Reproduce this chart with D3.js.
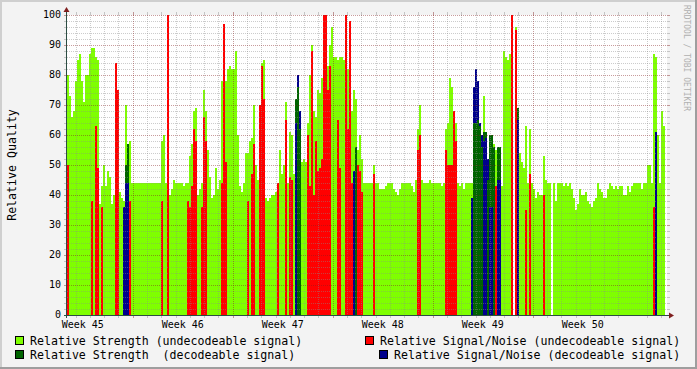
<!DOCTYPE html>
<html>
<head>
<meta charset="utf-8">
<script src="https://cdn.jsdelivr.net/npm/d3@7"></script>
<style>
  html, body { margin: 0; padding: 0; background: #f3f3f3; }
  svg { display: block; }
  text { font-family: "DejaVu Sans Mono", monospace; white-space: pre; }
</style>
</head>
<body>
<div id="chart"></div>
<script>
// time base: one sample every 3.36 h, starting Wed 2010-11-10 09:36 UTC
const seriesStart = "2010-11-10T09:36:00Z";
const sampleHours = 3.36;
const spanDays = 42;

const weekLabels = ["Week 45", "Week 46", "Week 47", "Week 48", "Week 49", "Week 50"];
const weekStarts = ["2010-11-08", "2010-11-15", "2010-11-22", "2010-11-29", "2010-12-06", "2010-12-13"];
const yTicks = [0, 10, 20, 30, 40, 50, 60, 70, 80, 90, 100];

// relative strength, undecodeable signal (one value per sample)
const strengthUndec = [
  80,73,66,68,78,85,87,78,71,80, 80,87,89,89,86,85,37,43,50,43, 48,46,37,40,65,40,41,39,38,70, 52,58,44,44,44,44,44,44,44,44, 44,44,44,44,44,44,44,58,60,44,
  40,40,42,45,44,44,44,44,43,44, 44,53,57,68,69,40,42,44,75,68, 55,46,39,40,49,42,45,78,85,78, 82,83,82,82,88,60,43,41,44,54, 54,58,59,70,50,45,60,84,85,39,
  38,39,40,40,41,40,55,47,50,71, 44,61,60,47,47,47,47,51,52,51, 64,80,90,68,66,75,74,79,0,0, 83,90,96,86,86,85,86,86,85,84, 82,70,68,75,72,55,60,52,44,44,
  44,44,44,50,44,44,42,42,42,43, 44,44,44,42,41,40,42,44,44,44, 44,44,43,41,45,62,70,45,44,44, 44,45,44,44,44,44,44,43,44,62, 64,79,76,60,64,44,43,44,42,44,
  44,44,44,44,44,44,44,44,73,44, 44,44,44,57,55,44,51,43,88,86, 85,87,0,0,96,44,54,51,49,63, 44,62,44,42,39,41,40,40,53,45, 44,44,0,44,38,44,44,44,43,44,
  43,44,42,39,35,37,42,40,40,41, 38,37,36,38,39,44,42,41,39,39, 42,44,43,42,43,42,43,43,40,40, 43,41,43,44,44,44,44,42,44,44, 50,50,44,87,86,60,44,68,63,0
];

// [sample, value] pairs, only where present
const snrUndec = [
  [0,50],[12,38],[14,63],[15,49],[17,36],[24,84],[25,75],[31,38],[47,38],
  [50,100],[60,38],[61,36],[62,43],[63,62],[64,58],[67,36],[68,66],[69,58],[77,44],[78,97],[79,51],[90,38],[92,47],[93,57],[96,70],[97,83],[98,72],
  [105,44],[109,65],[111,46],[112,45],[120,60],[121,43],[122,88],[123,40],[124,58],[125,48],[126,49],[127,52],[128,100],[129,100],[130,75],[131,83],
  [135,65],[136,49],[139,100],[140,62],[141,98],[142,44],[145,50],[146,48],[147,41],
  [153,47],[175,55],[176,60],[189,55],[190,50],[191,50],[192,50],[193,68],[194,58],
  [214,43],[222,100],[224,95],[229,35],[231,47],[238,40],
  [293,36]
];

const strengthDec = [
  [29,50],[30,57],
  [114,72],[115,76],[116,62],[144,56],
  [203,64],[204,64],[205,65],[206,63],[207,56],[208,61],[209,61],[210,45],[211,60],[212,60],[213,56],[215,56],[216,56],[225,69]
];

const snrDec = [
  [28,36],[29,44],[30,44],
  [114,64],[115,80],[116,68],[143,48],
  [202,39],[203,76],[204,82],[205,78],[206,64],[207,60],[208,58],[209,59],[210,52],[211,36],[212,36],[215,45],[216,45],[225,65],
  [294,61]
];

const legendItems = [
  { text: "Relative Strength (undecodeable signal)", color: "#7fff00", col: 0, row: 0 },
  { text: "Relative Signal/Noise (undecodeable signal)", color: "#ff0000", col: 1, row: 0 },
  { text: "Relative Strength  (decodeable signal)", color: "#006400", col: 0, row: 1 },
  { text: "Relative Signal/Noise (decodeable signal)", color: "#00008c", col: 2, row: 1 }
];

const W = 697, H = 369;
const plotL = 67, plotR = 667, plotT = 15, plotB = 315;

const start = new Date(seriesStart);
const end = d3.utcDay.offset(start, spanDays);
const stepMs = sampleHours * 3600 * 1000;
const t = (j) => new Date(+start + j * stepMs);

const x = d3.scaleUtc().domain([start, end]).range([plotL, plotR]);
const y = d3.scaleLinear().domain([0, 100]).range([plotB, plotT]);

const svg = d3.select("#chart").append("svg")
  .attr("width", W).attr("height", H)
  .attr("viewBox", [0, 0, W, H]);

// frame
svg.append("rect").attr("width", W).attr("height", H).attr("fill", "#f3f3f3");
svg.append("path").attr("d", `M0,${H}V0H${W}`).attr("fill", "none")
  .attr("stroke", "#cfcfcf").attr("stroke-width", 4);
svg.append("path").attr("d", `M0,${H}H${W}V0`).attr("fill", "none")
  .attr("stroke", "#9e9e9e").attr("stroke-width", 4);

// canvas
svg.append("rect").attr("x", plotL).attr("y", plotT)
  .attr("width", plotR - plotL).attr("height", plotB - plotT).attr("fill", "#fff");

// data
const gData = svg.append("g").attr("shape-rendering", "crispEdges");

function drawBars(g, data) {
  g.selectAll("rect")
    .data(data.filter((d) => d.v > 0))
    .join("rect")
    .attr("x", (d) => x(t(d.j)))
    .attr("width", (d) => x(t(d.j + 1)) - x(t(d.j)))
    .attr("y", (d) => y(d.v))
    .attr("height", (d) => y(0) - y(d.v))
    .attr("fill", (d) => d.c);
}

drawBars(gData.append("g"), strengthUndec.map((v, j) => ({ j, v, c: "#7fff00" })));
drawBars(gData.append("g"), snrUndec.map(([j, v]) => ({ j, v, c: "#ff0000" })));

// decodeable pair: the taller one goes behind
const dec = strengthDec.map(([j, v]) => ({ j, v, c: "#006400" }))
  .concat(snrDec.map(([j, v]) => ({ j, v, c: "#00008c" })))
  .sort((a, b) => a.j - b.j || b.v - a.v);
drawBars(gData.append("g"), dec);

// grid
const minorCol = "rgba(140,140,140,0.44)";
const majorCol = "rgba(130,30,30,0.44)";
const gGrid = svg.append("g").attr("shape-rendering", "crispEdges");

const mondays = weekStarts.map((s) => new Date(s + "T00:00:00Z"));
const majorX = mondays.filter((d) => d > start && d < end);
const minorX = d3.utcDay.range(start, end).filter((d) => d.getUTCDay() !== 1);
const minorY = d3.range(2, 100, 2).filter((v) => v % 10 !== 0);
const majorY = yTicks.filter((v) => v > 0);

function vLines(dates, color) {
  dates.forEach((d) => {
    const px = Math.round(x(d)) + 0.5;
    gGrid.append("line").attr("x1", px).attr("x2", px).attr("y1", plotT).attr("y2", plotB)
      .attr("stroke", color).attr("stroke-dasharray", "1,1");
    gGrid.append("line").attr("x1", px).attr("x2", px).attr("y1", plotT - 3).attr("y2", plotT)
      .attr("stroke", color);
    gGrid.append("line").attr("x1", px).attr("x2", px).attr("y1", plotB).attr("y2", plotB + 3)
      .attr("stroke", color);
  });
}
function hLines(vals, color) {
  vals.forEach((v) => {
    const py = y(v) + 0.5;
    gGrid.append("line").attr("x1", plotL).attr("x2", plotR).attr("y1", py).attr("y2", py)
      .attr("stroke", color).attr("stroke-dasharray", "1,1");
    gGrid.append("line").attr("x1", plotL - 3).attr("x2", plotL).attr("y1", py).attr("y2", py)
      .attr("stroke", color);
    gGrid.append("line").attr("x1", plotR).attr("x2", plotR + 3).attr("y1", py).attr("y2", py)
      .attr("stroke", color);
  });
}
vLines(minorX, minorCol);
hLines(minorY, minorCol);
vLines(majorX, majorCol);
hLines(majorY, majorCol);

// axes
const axisCol = "#2c4d43";
const arrowCol = "#7f1f1f";
svg.append("line").attr("x1", plotL - 3).attr("x2", plotR + 3)
  .attr("y1", plotB + 0.5).attr("y2", plotB + 0.5).attr("stroke", axisCol);
svg.append("line").attr("x1", plotL - 0.5).attr("x2", plotL - 0.5)
  .attr("y1", plotB + 3).attr("y2", plotT - 3).attr("stroke", axisCol);
svg.append("path").attr("fill", arrowCol)
  .attr("d", `M${plotR + 2},${plotB - 2.5}L${plotR + 7},${plotB + 0.5}L${plotR + 2},${plotB + 3.5}Z`);
svg.append("path").attr("fill", arrowCol)
  .attr("d", `M${plotL - 3.5},${plotT - 3}L${plotL - 0.5},${plotT - 8}L${plotL + 2.5},${plotT - 3}Z`);

// y labels
svg.append("g").selectAll("text").data(yTicks).join("text")
  .attr("x", 61).attr("y", (d) => y(d) + 3.4)
  .attr("text-anchor", "end").attr("font-size", 10).attr("fill", "#000")
  .text((d) => d);

// week labels, centred mid-week
svg.append("g").selectAll("text").data(weekLabels).join("text")
  .attr("x", (d, i) => x(d3.utcHour.offset(mondays[i], 84)))
  .attr("y", 328.3)
  .attr("text-anchor", "middle").attr("font-size", 10).attr("fill", "#000")
  .text((d) => d);

// y title
svg.append("text")
  .attr("transform", `translate(15.5,${(plotT + plotB) / 2}) rotate(-90)`)
  .attr("text-anchor", "middle").attr("font-size", 11.6).attr("fill", "#000")
  .text("Relative Quality");

// watermark
svg.append("text")
  .attr("transform", "translate(684,5) rotate(90)")
  .attr("font-size", 8).attr("fill", "#b0b0b0")
  .text("RRDTOOL / TOBI OETIKER");

// legend
const colX = [15.5, 365.5, 379.5];
const rowY = [336.5, 350.5];
const gLegend = svg.append("g");
legendItems.forEach((d) => {
  const bx = colX[d.col], by = rowY[d.row];
  gLegend.append("rect").attr("x", bx).attr("y", by).attr("width", 8).attr("height", 8)
    .attr("fill", d.color).attr("stroke", "#000").attr("shape-rendering", "crispEdges");
  gLegend.append("text").attr("x", bx + 14.5).attr("y", by + 8.7)
    .attr("font-size", 11.6).attr("fill", "#000").text(d.text);
});
</script>
</body>
</html>
